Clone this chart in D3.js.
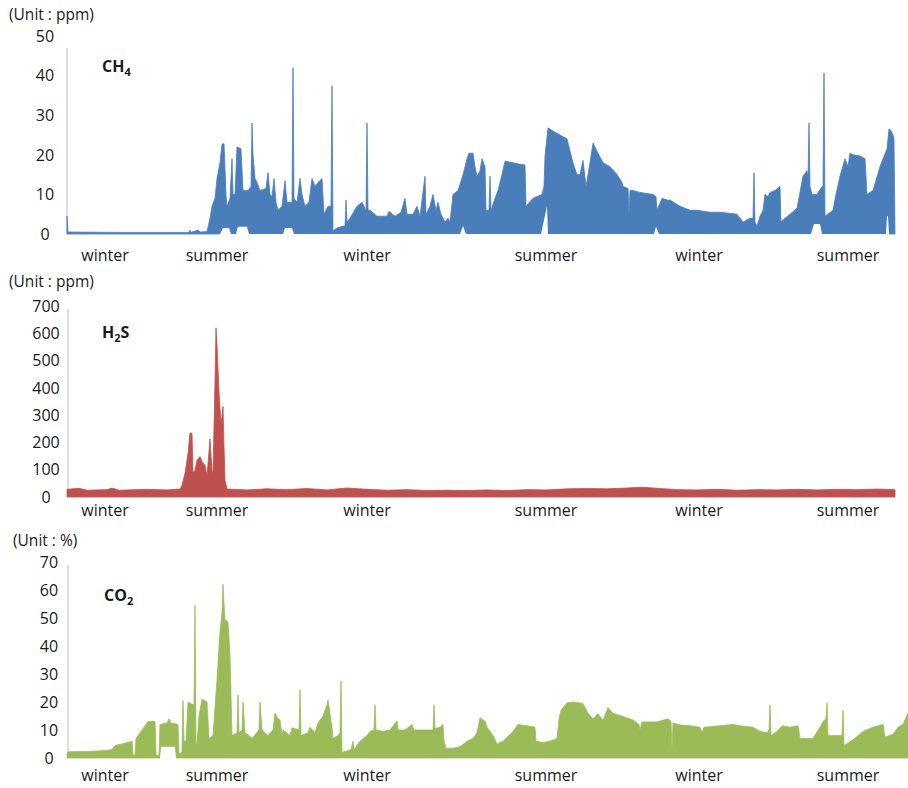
<!DOCTYPE html>
<html>
<head>
<meta charset="utf-8">
<script src="https://cdn.jsdelivr.net/npm/d3@7"></script>
<style>
  html, body { margin: 0; padding: 0; background: #fff; }
  svg text { font-family: "Open Sans", "Noto Sans", sans-serif; fill: #1a1a1a; }
</style>
</head>
<body>
<svg id="chart" width="908" height="788"></svg>
<script>
// ---------- DATA (time index t, value) ----------
const seasonLabels = ["winter", "summer", "winter", "summer", "winter", "summer"];
const seasonDays = [38, 150, 300, 479, 632, 781];

const ch4Ticks = [0, 10, 20, 30, 40, 50];
const h2sTicks = [0, 100, 200, 300, 400, 500, 600, 700];
const co2Ticks = [0, 10, 20, 30, 40, 50, 60, 70];

// CH4 upper envelope (ppm)
const ch4Upper = [
  [0,4.5],[1,0.5],[53,0.4],[122,0.4],[123,1],[124,0.4],[131,1],[133,0.5],[140,0.6],
  [143,4],[145,7],[148,9],[150,14],[153,18],[155,22.7],[157,22.8],[159,10],[160,7],[163,9],[165,19],[166,10],
  [168,10],[170,22],[174,21.5],[176,11],[181,11],[184,12],[185,28],[186,20],[188,14],[190,13],
  [193,11],[199,11.5],[201,15.5],[203,10],[205,9.5],[207,14],[209,8],[211,6],[215,7],[218,13.5],
  [220,8],[225,8],[226,42],[227,9],[230,8],[233,14],[235,10],[238,7],[242,8],[245,14],[248,12],
  [251,13],[255,14],[257,5],[261,7],[264,7],[265,37.4],[266,0.8],[270,1.5],[276,2],[278,2],
  [279,8.6],[280,3],[283,4],[290,7],[295,8],[299,6],[300,28],[301,6],[303,6],[310,4.5],[320,4.5],
  [322,5.7],[328,4.5],[334,5.5],[338,9],[340,5],[346,5],[350,7],[353,4.5],[358,14.6],[359,5],
  [363,7],[366,10],[369,6],[371,8],[374,5],[378,3],[381,4],[383,3],[386,10],[391,11],[396,15],
  [400,19],[402,20.4],[406,20.4],[408,17],[410,14.6],[413,16],[415,19],[418,17],[419,6],[422,6],
  [423,14.6],[424,6],[428,9],[431,11],[435,15],[438,18.4],[446,18],[453,17.6],[458,17.4],[459,7],
  [466,9],[475,10],[477,12],[478,19.7],[481,26.8],[486,26],[493,25],[500,24],[503,21],[506,18],
  [510,15],[513,15],[516,18.6],[519,12],[523,18],[526,23],[531,20.4],[536,18],[543,17],[550,15],
  [555,13],[556,12],[561,11.5],[562,5],[563,11],[566,11],[573,10.5],[586,10],[589,9.5],[590,6],
  [595,9],[601,8.5],[603,8.6],[613,7],[623,6],[630,6],[643,5.5],[653,5.5],[670,5],[676,3],
  [683,4],[686,4],[687,15.5],[688,3],[690,2],[693,4.5],[696,6],[698,10],[701,9.5],[703,10.5],
  [708,11],[713,12],[714,3],[718,4],[723,5],[730,6.5],[736,14.6],[740,16],[741,14],[742,28],
  [743,12],[745,10],[750,10],[755,12],[756,12],[757,40.7],[758,4.5],[766,6],[769,10],[773,14.6],
  [778,19],[781,17],[783,20.4],[786,20],[793,19.7],[798,19],[800,10],[806,11],[813,17],[820,21.5],
  [822,26.5],[824,26],[826,25],[827,24],[828,0]
];
// CH4 lower envelope where it lifts off zero (ppm)
const ch4Lower = [
  [153,0],[156,1.5],[162,1.5],[164,0],[169,0],[171,1.8],[180,1.8],[182,0],
  [216,0],[218,1.5],[225,1.5],[227,0],[393,0],[396,2],[399,0],
  [474,0],[480,7],[481,0],[587,0],[589,1.8],[592,0],
  [744,0],[747,2.5],[753,2.5],[755,0],[819,0],[820,4.5],[821,4.5],[822,0]
];

// H2S upper envelope (ppm)
const h2sUpper = [
  [0,28],[12,32],[20,25],[40,27],[45,33],[52,25],[80,28],[100,26],[113,29],[115,43],[118,87],
  [121,159],[123,235],[125,233],[126,87],[128,98],[130,134],[133,148],[135,130],[138,116],
  [140,76],[143,213],[145,98],[146,87],[148,422],[149,620],[150,556],[152,386],[154,267],
  [156,332],[157,184],[158,61],[160,29],[180,26],[200,30],[220,27],[240,31],[260,26],[280,33],
  [300,28],[320,25],[340,27],[360,24],[380,25],[400,24],[420,26],[440,24],[460,27],[480,26],
  [500,30],[520,31],[540,30],[560,33],[575,36],[590,32],[610,27],[630,26],[650,28],[670,25],
  [690,27],[710,26],[730,28],[750,26],[770,28],[790,27],[810,29],[828,27]
];

// CO2 upper envelope (%)
const co2Upper = [
  [0,1.5],[1,2.2],[20,2.3],[40,2.7],[45,3],[48,4.5],[55,5],[65,6],[66,1],[68,1],[69,7],[75,10],
  [81,13],[88,13],[89,1],[92,1],[93,12],[100,12.5],[102,14],[104,12.5],[111,12],[112,1.5],[115,2],
  [116,20.5],[117,6],[119,6],[121,20],[126,19],[127,19],[128,54.5],[129,5],[130,5],[132,15],
  [135,21],[140,20],[142,7],[146,8],[150,28],[153,45],[155,52],[156,62],[157,55],[158,49.5],
  [161,48.5],[163,36.6],[165,8],[170,9],[171,22.6],[172,9],[175,10],[176,20],[178,9],[182,8],
  [185,7],[192,10],[193,20],[195,10],[201,8],[206,10],[208,16],[211,14],[213,13.6],[215,8],
  [216,10],[223,8],[225,10.8],[232,10],[233,24.4],[234,8],[241,9],[243,11],[248,9],[251,12.5],
  [256,15],[260,19],[261,20.8],[264,13],[265,11],[266,7],[271,8],[273,9],[274,27.6],[275,2],
  [280,2.5],[284,3],[286,6],[287,3],[293,6],[300,8],[303,9.5],[307,10],[308,19],[309,10],
  [316,9.5],[323,10],[330,13.3],[331,10],[338,10],[345,12],[347,10],[356,10],[366,10],[367,19],
  [368,10.5],[373,11],[376,12],[377,6],[379,3.5],[386,3.5],[393,4],[400,6],[406,7],[410,9],
  [413,14.4],[418,13],[420,11],[426,8],[430,5],[436,6],[446,9.5],[451,12],[460,11.5],[468,11],
  [469,6],[476,5.5],[483,6],[490,7],[492,14],[494,17],[500,19.7],[506,20],[516,19.5],[521,16],
  [526,14],[531,15.7],[536,13.5],[541,18],[546,16],[556,14.8],[566,13.6],[572,12],[573,10],
  [575,12.9],[590,12.9],[601,14],[604,13],[605,3],[606,12.5],[613,11.8],[623,11.5],[633,11],
  [635,9],[637,11],[653,11.5],[666,12],[673,11.5],[686,11],[693,9.5],[700,9],[702,10],[703,19],
  [704,8],[710,9.5],[715,11.5],[723,11],[731,11.5],[733,7],[746,7],[753,11],[756,13],[759,14],
  [760,19.7],[761,8],[770,8],[775,8],[776,17],[777,4.5],[786,6.5],[796,9.5],[806,11],[816,12],
  [818,7.5],[826,8.5],[831,11],[836,12],[841,16]
];
// CO2 lower envelope where it lifts off zero (%)
const co2Lower = [[93,0],[94,4],[108,4],[109,0]];

// ---------- PANELS ----------
const panels = [
  { unit: "(Unit : ppm)", name: "CH", sub: "4", tail: "", upper: ch4Upper, lower: ch4Lower,
    ticks: ch4Ticks, domain: [0, 50], yRange: [234, 36], axisTop: 47, color: "#4a7ebb",
    axisX: 67, labelX: 45, unitX: 9, unitY: 20, nameY: 72, seasonY: 261, nameX: 102 },
  { unit: "(Unit : ppm)", name: "H", sub: "2", tail: "S", upper: h2sUpper, lower: [],
    ticks: h2sTicks, domain: [0, 700], yRange: [497, 306], axisTop: 690, color: "#c0504d",
    axisX: 68, labelX: 46, unitX: 9, unitY: 287, nameY: 338, seasonY: 516, nameX: 102 },
  { unit: "(Unit : %)", name: "CO", sub: "2", tail: "", upper: co2Upper, lower: co2Lower,
    ticks: co2Ticks, domain: [0, 70], yRange: [758, 562], axisTop: 69, color: "#9bbb59",
    axisX: 68, labelX: 49, unitX: 13, unitY: 546, nameY: 601, seasonY: 781, nameX: 104 }
];

const svg = d3.select("#chart");
const x = d3.scaleLinear().domain([0, 841]).range([67, 908]);

panels.forEach((p) => {
  const y = d3.scaleLinear().domain(p.domain).range(p.yRange);
  const g = svg.append("g");

  // unit caption
  g.append("text").attr("x", p.unitX).attr("y", p.unitY)
    .attr("font-size", 15.5).text(p.unit);

  // axis line
  g.append("line").attr("x1", p.axisX).attr("x2", p.axisX)
    .attr("y1", y(0)).attr("y2", y(p.axisTop))
    .attr("stroke", "#c8c8c8").attr("stroke-width", 1.2);

  // tick labels
  g.selectAll("text.tick").data(p.ticks).join("text")
    .attr("class", "tick")
    .attr("x", p.labelX).attr("y", d => y(d)).attr("dy", "0.36em")
    .attr("text-anchor", "middle").attr("font-size", 16)
    .text(d => d);

  // data area
  const area = d3.area().x(d => x(d[0])).y0(y(0)).y1(d => y(d[1]));
  g.append("path").datum(p.upper).attr("d", area)
    .attr("fill", p.color).attr("stroke", p.color).attr("stroke-width", 0.8)
    .attr("stroke-linejoin", "round");
  if (p.lower.length) {
    g.append("path").datum(p.lower)
      .attr("d", d3.area().x(d => x(d[0])).y0(y(0) + 1).y1(d => y(d[1])))
      .attr("fill", "#fff");
  }

  // series name with subscript
  const t = g.append("text").attr("x", p.nameX).attr("y", p.nameY)
    .attr("font-size", 16).attr("font-weight", 700);
  t.append("tspan").text(p.name);
  t.append("tspan").attr("font-size", 11).attr("dy", 4).text(p.sub);
  if (p.tail) t.append("tspan").attr("dy", -4).text(p.tail);

  // season labels
  g.selectAll("text.season").data(seasonLabels).join("text")
    .attr("class", "season")
    .attr("x", (d, k) => x(seasonDays[k])).attr("y", p.seasonY)
    .attr("text-anchor", "middle").attr("font-size", 16)
    .text(d => d);
});
</script>
</body>
</html>
